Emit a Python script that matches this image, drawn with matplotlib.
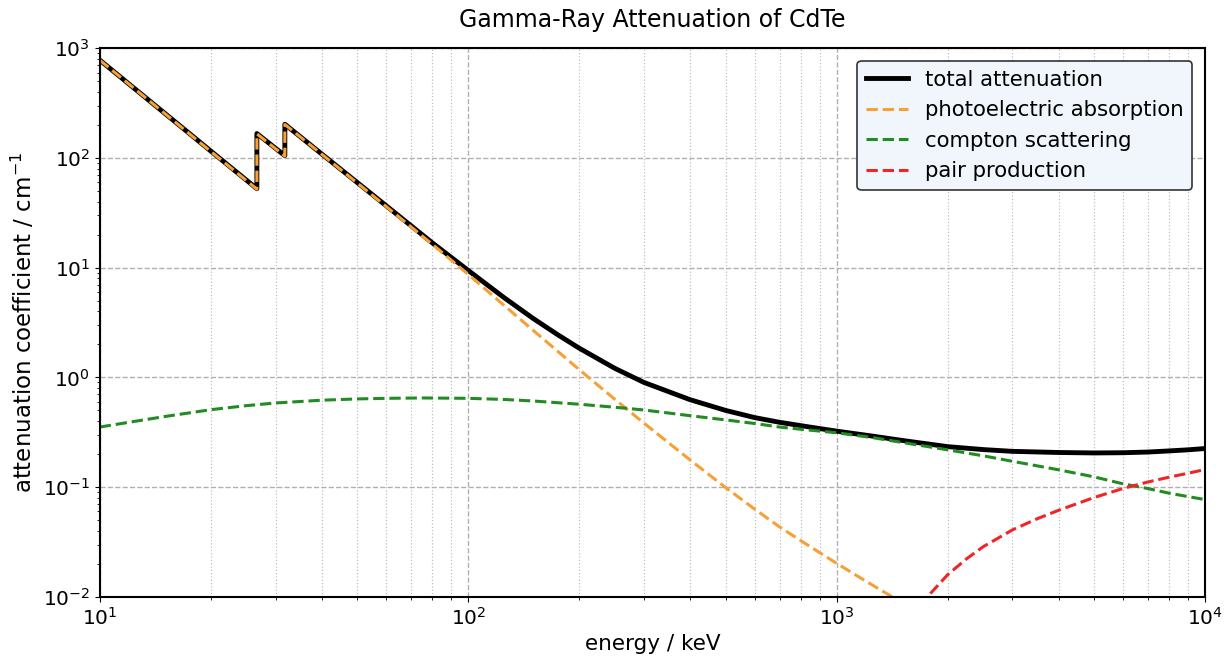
import matplotlib
matplotlib.use("Agg")
import matplotlib.pyplot as plt

# values (energy in keV, coefficient in 1/cm)
e_total = [10, 15, 20, 26.7, 26.7, 31.8, 31.8, 40, 57.5, 80, 100, 125, 150, 175, 200, 250, 300, 400,
           500, 600, 700, 850, 1000, 1250, 1500, 2000, 2500, 3000, 4000, 5000, 6000, 7000,
           8000, 9000, 10000]
mu_total = [781, 256, 116, 52.5, 167, 105, 203, 109, 41, 16.8, 9.45, 5.35, 3.45, 2.45, 1.85, 1.21, 0.90,
            0.627, 0.50, 0.43, 0.39, 0.352, 0.324, 0.292, 0.267, 0.234, 0.220, 0.212, 0.207, 0.205, 0.206,
            0.209, 0.214, 0.219, 0.225]

e_photo = [10, 15, 20, 26.7, 26.7, 31.8, 31.8, 40, 57.5, 80, 100, 125, 150, 175, 200, 250, 300, 400,
           500, 600, 700, 850, 1000, 1200, 1423, 1600]
mu_photo = [780, 255, 115, 52, 166, 104, 202, 108.5, 40.4, 16.3, 8.7, 4.55, 2.69, 1.73, 1.18, 0.632, 0.383,
            0.177, 0.099, 0.0628, 0.0434, 0.0285, 0.0202, 0.0139, 0.0099, 0.0079]

e_compton = [10, 12, 15, 20, 25, 30, 40, 50, 60, 75, 100, 125, 150, 200, 250, 300, 400, 500, 600, 700,
             800, 1000, 1250, 1500, 2000, 2500, 3000, 4000, 5000, 6000, 7000, 8000, 9000, 10000]
mu_compton = [0.353, 0.39, 0.44, 0.508, 0.553, 0.585, 0.62, 0.637, 0.645, 0.65, 0.645, 0.63, 0.61, 0.57,
              0.535, 0.505, 0.448, 0.41, 0.38, 0.353, 0.337, 0.313, 0.283, 0.256, 0.219, 0.193, 0.172,
              0.144, 0.124, 0.107, 0.097, 0.088, 0.082, 0.077]

e_pair = [1200, 1400, 1600, 1800, 2000, 2250, 2500, 3000, 3500, 4000, 5000, 6000, 7000, 8000, 9000, 10000]
mu_pair = [0.001, 0.0029, 0.0064, 0.0108, 0.0159, 0.0222, 0.0287, 0.0408, 0.0515, 0.0615, 0.0805, 0.0975,
           0.1115, 0.1235, 0.134, 0.145]

fig, ax = plt.subplots(figsize=(12.31, 6.61), dpi=100)
fig.subplots_adjust(left=0.081, right=0.979, top=0.927, bottom=0.097)

ax.plot(e_total, mu_total, '-', color='black', lw=3.5, label='total attenuation')
ax.plot(e_photo, mu_photo, '--', color='#f7a035', lw=2.2, label='photoelectric absorption')
ax.plot(e_compton, mu_compton, '--', color='#228b22', lw=2.2, label='compton scattering')
ax.plot(e_pair, mu_pair, '--', color='#f02525', lw=2.2, label='pair production')

ax.set_xscale('log')
ax.set_yscale('log')
ax.set_xlim(10, 1e4)
ax.set_ylim(1e-2, 1e3)

ax.grid(True, which='major', axis='both', linestyle='--', color='#b0b0b0', lw=1)
ax.grid(True, which='minor', axis='x', linestyle=':', color='#c0c0c0', lw=0.9)
ax.set_axisbelow(True)
for s in ax.spines.values():
    s.set_linewidth(1.5)

ax.tick_params(labelsize=14.5)
ax.set_xlabel('energy / keV', fontsize=15.5)
ax.set_ylabel('attenuation coefficient / cm$^{-1}$', fontsize=16.5)
ax.set_title('Gamma-Ray Attenuation of CdTe', fontsize=17, pad=15)

leg = ax.legend(loc='upper right', fontsize=15.3, facecolor='#f0f6fc', edgecolor='#333333',
                framealpha=1, borderaxespad=0.6)
leg.get_frame().set_linewidth(1.2)

plt.savefig('out.png')
